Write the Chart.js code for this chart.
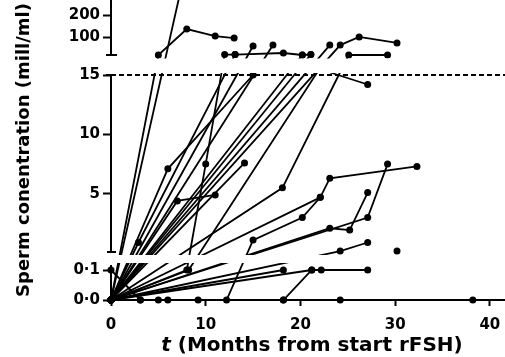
<!DOCTYPE html>
<html>
<head>
<meta charset="utf-8">
<script src="https://cdn.jsdelivr.net/npm/chart.js@4.4.1/dist/chart.umd.min.js"></script>
<style>
  html, body { margin: 0; padding: 0; background: #fff; }
  #wrap { width: 505px; height: 357px; position: relative; }
</style>
</head>
<body>
<div id="wrap"><canvas id="spermChart"></canvas></div>
<script>
// each patient: [months from start rFSH, sperm concentration (mill/ml)]
const pt1 = [[0, 0], [7.6, 360]];
const pt2 = [[0, 0], [5, 20], [8, 138], [11, 106], [13, 97]];
const pt3 = [[0, 0], [6, 7.1], [15, 15]];
const pt4 = [[0, 0], [8, 0.1], [10, 7.5], [12, 22], [13.1, 22], [18.2, 29], [20.2, 20], [21.1, 22]];
const pt5 = [[0, 0], [14.1, 7.6]];
const pt6 = [[0, 0], [7, 4.4], [11, 4.9]];
const pt7 = [[0, 0], [2.9, 0.9], [13.1, 22]];
const pt8 = [[0, 0], [15, 61]];
const pt9 = [[0, 0], [17.1, 65]];
const pt10 = [[0, 0], [20.2, 20]];
const pt11 = [[0, 0], [21.1, 22]];
const pt12 = [[0, 0], [23.1, 65]];
const pt13 = [[0, 0], [24.2, 65], [26.2, 102], [30.2, 75]];
const pt14 = [[0, 0], [18.1, 5.5], [25.1, 20], [29.2, 20]];
const pt15 = [[0, 0], [8.2, 0.1], [22, 16.5], [27.1, 14.2]];
const pt16 = [[0, 0], [3.1, 0], [5, 0], [6, 0], [9.2, 0], [18.2, 0], [24.2, 0], [38.2, 0]];
const pt17 = [[0, 0], [12.2, 0], [15, 1.1], [20.2, 3.0], [22.1, 4.7], [23.1, 6.3], [32.3, 7.3]];
const pt18 = [[0, 0], [18.2, 0], [21.2, 0.1], [22.2, 0.1], [27.1, 0.1]];
const pt19 = [[0, 0], [18.2, 0.1]];
const pt20 = [[0, 0.1], [3.1, 0]];
const pt21 = [[0, 0], [22.1, 4.7]];
const pt22 = [[0, 0], [23.1, 2.1], [25.2, 1.95], [27.1, 5.1]];
const pt23 = [[0, 0], [24.2, 0.18], [27.1, 0.9]];
const pt24 = [[0, 0], [27.1, 3.0], [29.2, 7.5]];
const pt25 = [[30.2, 0.18]];
const pt26 = [[0, 0], [21.2, 0.1]];

const patients = [pt1, pt2, pt3, pt4, pt5, pt6, pt7, pt8, pt9, pt10, pt11, pt12, pt13,
                  pt14, pt15, pt16, pt17, pt18, pt19, pt20, pt21, pt22, pt23, pt24, pt25, pt26];

const xTickValues = [0, 10, 20, 30, 40];
const yTickValues = [0, 0.1, 5, 10, 15, 100, 200];
const yTickLabels = ['0·0', '0·1', '5', '10', '15', '100', '200'];
const thresholdLine = [[0, 15], [41.6, 15]];

// broken y axis, pieces are [fromValue, toValue, fromFraction, toFraction]
const yPieces = [
    [0, 0.1, 0, 0.1],
    [0.1, 15, 0.16, 0.75],
    [15, 20, 0.75, 0.8167],
    [20, 270, 0.8167, 1]
];

class BrokenScale extends Chart.LinearScale {
    getPixelForValue(value) {
        if (value === null || isNaN(value)) return NaN;
        let p = yPieces[yPieces.length - 1];
        for (const piece of yPieces) {
            if (value <= piece[1]) { p = piece; break; }
        }
        const f = p[2] + (value - p[0]) / (p[1] - p[0]) * (p[3] - p[2]);
        return this.getPixelForDecimal(f);
    }
    getValueForPixel(pixel) {
        const f = this.getDecimalForPixel(pixel);
        for (const p of yPieces) {
            if (f <= p[3]) return p[0] + (f - p[2]) / (p[3] - p[2]) * (p[1] - p[0]);
        }
        return yPieces[yPieces.length - 1][1];
    }
}
BrokenScale.id = 'broken';
BrokenScale.defaults = Chart.LinearScale.defaults;
Chart.register(BrokenScale);

const brokenAxis = {
    id: 'brokenAxis',
    beforeDatasetsDraw(chart) {
        const {ctx, chartArea, scales: {x, y}} = chart;
        const x0 = x.getPixelForValue(0);
        const pTop = y.getPixelForValue(20);
        const p15 = y.getPixelForValue(15);
        const pLow = y.getPixelForValue(0.10001);
        const p01 = y.getPixelForValue(0.1);
        const p0 = y.getPixelForValue(0);

        // axis pieces with end caps
        ctx.save();
        ctx.strokeStyle = '#000';
        ctx.lineWidth = 2;
        ctx.beginPath();
        ctx.moveTo(x0, chartArea.top); ctx.lineTo(x0, pTop);
        ctx.moveTo(x0 - 5, pTop); ctx.lineTo(x0 + 6, pTop);
        ctx.moveTo(x0, p15); ctx.lineTo(x0, pLow);
        ctx.moveTo(x0 - 5, p15); ctx.lineTo(x0 + 5, p15);
        ctx.moveTo(x0 - 4, pLow); ctx.lineTo(x0 + 5, pLow);
        ctx.moveTo(x0, p01 - 5); ctx.lineTo(x0, p0);
        ctx.stroke();
        ctx.restore();

        // only draw the data inside the three panels
        const l = chartArea.left - 8;
        const w = chartArea.right - l + 2;
        ctx.save();
        ctx.beginPath();
        ctx.rect(l, chartArea.top, w, pTop + 3.5 - chartArea.top);
        ctx.rect(l, p15 - 2, w, pLow + 3 - (p15 - 2));
        ctx.rect(l, p01 - 7, w, chartArea.bottom + 6 - (p01 - 7));
        ctx.clip();
    },
    afterDatasetsDraw(chart) {
        chart.ctx.restore();
    },
    afterDraw(chart) {
        const {ctx, chartArea} = chart;
        const italic = 'italic bold 20px "DejaVu Sans"';
        const bold = 'bold 20px "DejaVu Sans"';
        const rest = ' (Months from start rFSH)';
        ctx.save();
        ctx.fillStyle = '#000';
        ctx.textBaseline = 'alphabetic';
        ctx.font = italic;
        const w1 = ctx.measureText('t').width;
        ctx.font = bold;
        const w2 = ctx.measureText(rest).width;
        const sx = (chartArea.left + chartArea.right) / 2 - (w1 + w2) / 2 + 4;
        ctx.font = italic;
        ctx.fillText('t', sx, 351);
        ctx.font = bold;
        ctx.fillText(rest, sx + w1, 351);
        ctx.restore();
    }
};

const tickFont = {family: 'DejaVu Sans', weight: 'bold', size: 15};

const datasets = patients.map(p => ({
    data: p,
    showLine: true,
    borderColor: '#000',
    backgroundColor: '#000',
    borderWidth: 1.8,
    pointRadius: 3.5,
    pointHoverRadius: 3.5,
    pointBorderWidth: 0,
    clip: false
}));
datasets.push({
    data: thresholdLine,
    showLine: true,
    borderColor: '#000',
    borderWidth: 2,
    borderDash: [5, 3],
    pointRadius: 0,
    clip: false
});

const ctx = document.getElementById('spermChart').getContext('2d');
new Chart(ctx, {
    type: 'scatter',
    data: {datasets: datasets},
    options: {
        responsive: true,
        maintainAspectRatio: false,
        animation: false,
        events: [],
        layout: {padding: 0, autoPadding: false},
        plugins: {
            legend: {display: false},
            tooltip: {enabled: false}
        },
        scales: {
            x: {
                type: 'linear',
                min: 0,
                max: 41.6,
                afterBuildTicks: s => { s.ticks = xTickValues.map(v => ({value: v})); },
                afterFit: s => { s.height = 57; s.paddingLeft = 0; s.paddingRight = 0; },
                ticks: {color: '#000', font: tickFont, padding: 10, maxRotation: 0, autoSkip: false},
                grid: {drawOnChartArea: false, tickLength: 6, tickWidth: 2, tickColor: '#000'},
                border: {display: true, color: '#000', width: 2}
            },
            y: {
                type: 'broken',
                min: 0,
                max: 270,
                afterBuildTicks: s => { s.ticks = yTickValues.map(v => ({value: v})); },
                afterFit: s => { s.width = 111; s.paddingTop = 0; s.paddingBottom = 0; },
                ticks: {
                    color: '#000',
                    font: tickFont,
                    padding: 3,
                    autoSkip: false,
                    callback: (v, i) => yTickLabels[i]
                },
                grid: {drawOnChartArea: false, tickLength: 8, tickWidth: 2, tickColor: '#000'},
                border: {display: false},
                title: {
                    display: true,
                    text: 'Sperm conentration (mill/ml)',
                    color: '#000',
                    font: {family: 'DejaVu Sans', weight: 'bold', size: 18},
                    padding: {top: 14, bottom: 0}
                }
            }
        }
    },
    plugins: [brokenAxis]
});
</script>
</body>
</html>
